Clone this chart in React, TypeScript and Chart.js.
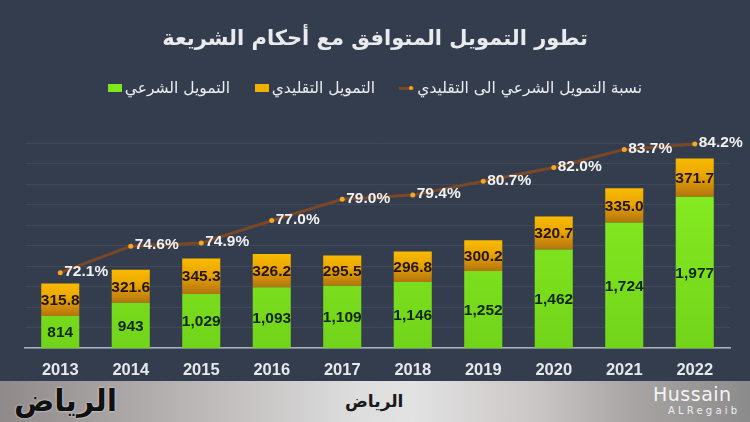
import React, { useEffect, useRef } from "react";
import { Chart, registerables } from "chart.js";

Chart.register(...registerables);

const years = ["2013", "2014", "2015", "2016", "2017", "2018", "2019", "2020", "2021", "2022"];
const shariaValues = [814, 943, 1029, 1093, 1109, 1146, 1252, 1462, 1724, 1977];
const conventionalValues = [315.8, 321.6, 345.3, 326.2, 295.5, 296.8, 300.2, 320.7, 335.0, 371.7];
const ratioValues = [72.1, 74.6, 74.9, 77.0, 79.0, 79.4, 80.7, 82.0, 83.7, 84.2];

const titleText = "تطور التمويل المتوافق مع أحكام الشريعة";
const legendSharia = "التمويل الشرعي";
const legendConventional = "التمويل التقليدي";
const legendRatio = "نسبة التمويل الشرعي الى التقليدي";

const BG = "#343d4e";

const labelPlugin = {
  id: "valueLabels",
  afterDatasetsDraw(chart: any) {
    const ctx = chart.ctx;
    const area = chart.chartArea;
    ctx.save();
    ctx.textAlign = "center";
    ctx.textBaseline = "middle";
    ctx.font = "bold 15.5px 'Liberation Sans', Arial, sans-serif";
    const m0 = chart.getDatasetMeta(0);
    m0.data.forEach((el: any, i: number) => {
      const base = Math.min(el.base, area.bottom);
      const y = (el.y + base) / 2;
      ctx.fillStyle = "#102600";
      ctx.fillText(shariaValues[i].toLocaleString("en-US"), el.x, y + 1);
    });
    const m1 = chart.getDatasetMeta(1);
    m1.data.forEach((el: any, i: number) => {
      const y = (el.y + el.base) / 2;
      ctx.fillStyle = "#231500";
      ctx.fillText(conventionalValues[i].toFixed(1), el.x, y + 1);
    });
    const m2 = chart.getDatasetMeta(2);
    ctx.textAlign = "left";
    ctx.font = "bold 15.5px 'Liberation Sans', Arial, sans-serif";
    m2.data.forEach((el: any, i: number) => {
      ctx.fillStyle = "#f2f2f2";
      ctx.fillText(ratioValues[i].toFixed(1) + "%", el.x + 4, el.y - 1);
    });
    ctx.restore();
  },
};

function ChartCanvas() {
  const ref = useRef<HTMLCanvasElement | null>(null);
  useEffect(() => {
    if (!ref.current) return;
    const chart = new Chart(ref.current, {
      type: "bar",
      data: {
        labels: years,
        datasets: [
          {
            type: "bar",
            label: legendSharia,
            data: shariaValues,
            order: 2,
            stack: "s",
            yAxisID: "y",
            backgroundColor: (c: any) => {
              const chart = c.chart;
              const area = chart.chartArea;
              if (!area) return "#80e61f";
              const g = chart.ctx.createLinearGradient(0, area.top, 0, area.bottom);
              g.addColorStop(0, "#8af223");
              g.addColorStop(1, "#72d41a");
              return g;
            },
            borderWidth: 0,
            barPercentage: 0.54,
            categoryPercentage: 1,
          } as any,
          {
            type: "bar",
            label: legendConventional,
            data: conventionalValues,
            order: 2,
            stack: "s",
            yAxisID: "y",
            backgroundColor: (c: any) => {
              const chart = c.chart;
              const ys = chart.scales && chart.scales.y;
              const i = c.dataIndex;
              if (!ys || i == null) return "#eaa800";
              const top = ys.getPixelForValue(shariaValues[i] + conventionalValues[i]);
              const bot = ys.getPixelForValue(shariaValues[i]);
              if (!isFinite(top) || !isFinite(bot) || top === bot) return "#eaa800";
              const g = chart.ctx.createLinearGradient(0, top, 0, bot);
              g.addColorStop(0, "#f8bb00");
              g.addColorStop(0.45, "#eaa500");
              g.addColorStop(1, "#b27410");
              return g;
            },
            borderWidth: 0,
            barPercentage: 0.54,
            categoryPercentage: 1,
          } as any,
          {
            type: "line",
            label: legendRatio,
            data: ratioValues,
            order: 0,
            yAxisID: "y1",
            borderColor: "#7a4826",
            borderWidth: 3,
            pointRadius: 2.5,
            pointBackgroundColor: "#f5a623",
            pointBorderWidth: 0,
            tension: 0,
            clip: false,
          } as any,
        ],
      },
      options: {
        animation: false,
        responsive: false,
        events: [],
        layout: { padding: { left: 25, right: 20, top: 143, bottom: 30 } },
        plugins: {
          legend: { display: false },
          title: { display: false },
          tooltip: { enabled: false },
        },
        scales: {
          x: {
            stacked: true,
            offset: true,
            grid: { display: false, drawTicks: false },
            border: { display: true, color: "#aab2bf", width: 1.5 },
            ticks: {
              color: "#e6e8ec",
              padding: 12,
              font: { family: "'Liberation Sans', Arial, sans-serif", size: 16.5, weight: "bold" },
            },
          },
          y: {
            stacked: true,
            min: 500,
            max: 2500,
            ticks: { display: false, stepSize: 200 },
            grid: { color: "rgba(255,255,255,0.07)", lineWidth: 1, drawTicks: false },
            border: { display: false },
          },
          y1: {
            display: false,
            min: 65,
            max: 84.3,
          },
        },
      },
      plugins: [labelPlugin],
    } as any);
    return () => chart.destroy();
  }, []);
  return (
    <canvas
      ref={ref}
      width={750}
      height={422}
      style={{ position: "absolute", left: 0, top: 0, width: 750, height: 422 }}
    />
  );
}

export default function App() {
  const arabicFont = "'DejaVu Sans', 'Noto Sans', sans-serif";
  const legendItem = (right: number, marker: React.ReactNode, text: string) => (
    <div
      style={{
        position: "absolute",
        right: 750 - right,
        top: 77,
        height: 22,
        display: "flex",
        alignItems: "center",
        gap: 3,
        color: "#eceef1",
        fontFamily: arabicFont,
        fontSize: 15.5,
        whiteSpace: "nowrap",
      }}
    >
      {marker}
      <span dir="rtl">{text}</span>
    </div>
  );
  return (
    <div
      style={{
        position: "absolute",
        left: 0,
        top: 0,
        width: 750,
        height: 422,
        background: BG,
        overflow: "hidden",
      }}
    >
      <ChartCanvas />
      <div
        dir="rtl"
        style={{
          position: "absolute",
          left: 0,
          width: 750,
          top: 26,
          textAlign: "center",
          color: "#e9ebee",
          fontFamily: arabicFont,
          fontWeight: "bold",
          fontSize: 21,
          whiteSpace: "nowrap",
        }}
      >
        {titleText}
      </div>
      {legendItem(
        230,
        <span style={{ display: "inline-block", width: 14, height: 8, background: "#80e61f" }} />,
        legendSharia
      )}
      {legendItem(
        375,
        <span style={{ display: "inline-block", width: 14, height: 8, background: "#f0b000" }} />,
        legendConventional
      )}
      {legendItem(
        642,
        <span style={{ position: "relative", display: "inline-block", width: 15, height: 8 }}>
          <span style={{ position: "absolute", left: 0, top: 3, width: 15, height: 2.5, background: "#7a4826" }} />
          <span
            style={{
              position: "absolute",
              left: 10,
              top: 2,
              width: 4,
              height: 4,
              borderRadius: 2,
              background: "#f5a623",
            }}
          />
        </span>,
        legendRatio
      )}
      <div
        style={{
          position: "absolute",
          left: 0,
          top: 381,
          width: 750,
          height: 41,
          background:
            "linear-gradient(90deg, #8f8a89 0%, #b9b5b4 25%, #dedede 48%, #e2e2e2 55%, #c9c5c4 72%, #a8a5a4 84%, #8c8b8b 100%)",
        }}
      >
        <div
          dir="rtl"
          style={{
            position: "absolute",
            left: 14,
            top: 2,
            fontFamily: "'DejaVu Serif', 'DejaVu Sans', serif",
            fontWeight: "bold",
            fontSize: 30,
            color: "#111",
            lineHeight: "36px",
            textShadow: "0 0 2px #fff",
          }}
        >
          الرياض
        </div>
        <div
          dir="rtl"
          style={{
            position: "absolute",
            left: 345,
            top: 9,
            fontFamily: "'DejaVu Sans', sans-serif",
            fontWeight: "bold",
            fontSize: 17,
            color: "#1a1a1a",
            lineHeight: "22px",
          }}
        >
          الرياض
        </div>
        <div
          style={{
            position: "absolute",
            left: 653,
            top: 2,
            fontFamily: "'DejaVu Sans', sans-serif",
            fontSize: 19,
            color: "#f4f4f4",
            lineHeight: "22px",
            letterSpacing: 0.5,
          }}
        >
          Hussain
        </div>
        <div
          style={{
            position: "absolute",
            left: 668,
            top: 24,
            fontFamily: "'DejaVu Sans', sans-serif",
            fontSize: 10,
            color: "#eeeeee",
            lineHeight: "12px",
            letterSpacing: 3.2,
          }}
        >
          ALRegaib
        </div>
      </div>
    </div>
  );
}
